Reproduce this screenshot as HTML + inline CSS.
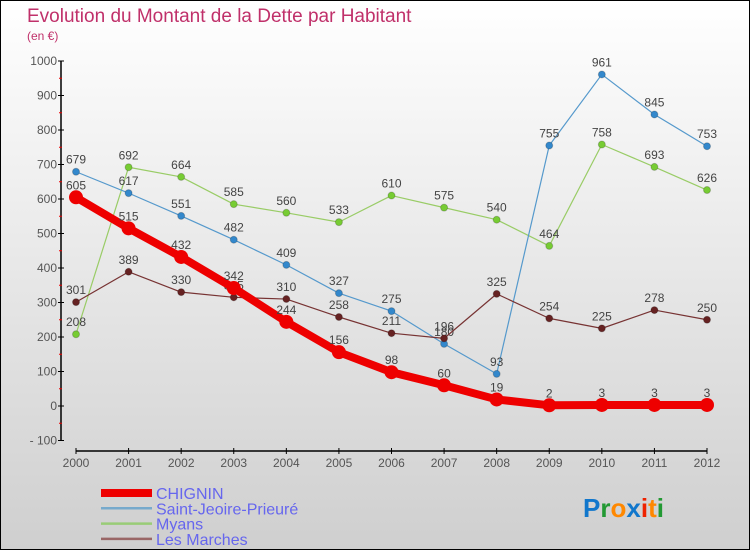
<!DOCTYPE html>
<html><head><meta charset="utf-8"><style>
body{margin:0;}
#c{width:748px;height:548px;border:1px solid #000;background:linear-gradient(#ffffff,#cfcfcf);position:relative;font-family:"Liberation Sans",sans-serif;overflow:hidden}
svg{position:absolute;left:0;top:0}
</style></head><body>
<div id="c">
<svg id="s" width="748" height="548">
<text x="26" y="21" font-size="19" fill="#c0306a">Evolution du Montant de la Dette par Habitant</text>
<text x="26" y="39" font-size="12" fill="#c0306a">(en €)</text>
</svg>
</div>
<script>
const years=[2000,2001,2002,2003,2004,2005,2006,2007,2008,2009,2010,2011,2012];
const yTicks=[-100,0,100,200,300,400,500,600,700,800,900,1000];
const chignin=[605,515,432,342,244,156,98,60,19,2,3,3,3];
const saintJeoire=[679,617,551,482,409,327,275,180,93,755,961,845,753];
const myans=[208,692,664,585,560,533,610,575,540,464,758,693,626];
const lesMarches=[301,389,330,315,310,258,211,196,325,254,225,278,250];
const NS="http://www.w3.org/2000/svg";
const s=document.getElementById('s');
function X(i){return 75+i*(706-75)/(years.length-1);}
function Y(v){return 405-v*0.345;}
function el(t,a,p){const e=document.createElementNS(NS,t);for(const k in a)e.setAttribute(k,a[k]);(p||s).appendChild(e);return e;}
const ya=el('line',{x1:60,y1:Y(1000),x2:60,y2:Y(-100),stroke:'#000','stroke-width':1.5});


const xa=el('line',{x1:75,y1:450,x2:706,y2:450,stroke:'#000','stroke-width':1.5});


yTicks.forEach(v=>{
 el('line',{x1:57,x2:63,y1:Y(v),y2:Y(v),stroke:'#000'});
 if(v<1000){el('line',{x1:58,x2:61,y1:Y(v+50),y2:Y(v+50),stroke:'#e00'});}
 const t=el('text',{x:56,y:Y(v)+4,'font-size':12,'text-anchor':'end',fill:'#555'});
 t.textContent=v<0?'- '+(-v):v;
 
 
});
years.forEach((y,i)=>{
 el('line',{x1:X(i),x2:X(i),y1:447,y2:453,stroke:'#000'});
 const t=el('text',{x:X(i),y:466,'font-size':12,'text-anchor':'middle',fill:'#555'});
 t.textContent=y;
 
 
});
function series(data,color,dot,w,r,name){
 const g=el('g',{});
 
 
 el('polyline',{points:data.map((v,i)=>X(i)+','+Y(v)).join(' '),fill:'none',stroke:color,'stroke-width':w,'stroke-linejoin':'round'},g);
 data.forEach((v,i)=>{
  const c=el('circle',{cx:X(i),cy:Y(v),r:r,fill:dot,stroke:w>3?'none':'#0003'},g);
  
  
  const t=el('text',{x:X(i),y:Y(v)-8,'font-size':12,'text-anchor':'middle',fill:'#444'},g);
  t.textContent=v;
 });
}
series(myans,'#99cc66','#77cc33',1.2,3.5,'series-myans');
series(saintJeoire,'#5599cc','#3388cc',1.2,3.5,'series-saint-jeoire');
series(lesMarches,'#773333','#662222',1.2,3.5,'series-les-marches');
series(chignin,'#ee0000','#ee0000',8,7,'series-chignin');
const leg=[['CHIGNIN','#ee0000',8],['Saint-Jeoire-Prieuré','#77aacc',2.5],['Myans','#99cc77',2.5],['Les Marches','#996666',2.5]];
leg.forEach((l,i)=>{
 const y=492+i*15.3;
 const g=el('g',{});
 
 
 el('line',{x1:100,x2:151,y1:y,y2:y,stroke:l[1],'stroke-width':l[2]},g);
 const t=el('text',{x:155,y:y+6,'font-size':16,fill:'#6666ee'},g);
 t.textContent=l[0];
});
const logo=el('text',{x:582,y:516,'font-size':26,'font-weight':'bold','font-family':'Liberation Sans, sans-serif'});


[['P','#1177cc'],['r','#229933'],['o','#ff8800'],['x','#1177cc'],['i','#ee2200'],['t','#ff8800'],['i','#229933']].forEach(p=>{const ts=el('tspan',{fill:p[1]},logo);ts.textContent=p[0];});
</script>
</body></html>
